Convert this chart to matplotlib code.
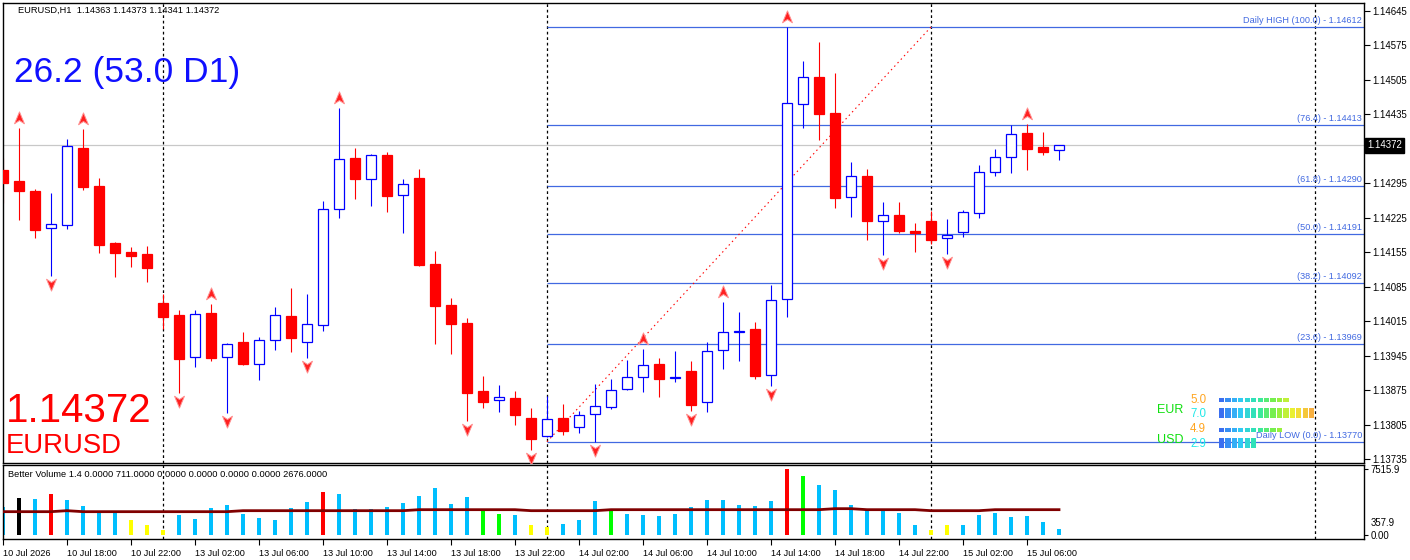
import matplotlib
matplotlib.use("Agg")
import matplotlib.pyplot as plt
import matplotlib.transforms as mtransforms
from matplotlib.path import Path
from matplotlib.patches import Rectangle
from matplotlib.colors import LinearSegmentedColormap

plt.rcParams["font.family"] = ["Liberation Sans", "DejaVu Sans"]

W, H, DPI = 1410, 560, 100

# EURUSD H1 bars, 10 Jul 14:00 .. 15 Jul 08:00
opens = [1.14322, 1.14299, 1.14279, 1.14204, 1.14210, 1.14366, 1.14289, 1.14174, 1.14155, 1.14151,
         1.14052, 1.14027, 1.13942, 1.14031, 1.13942, 1.13973, 1.13928, 1.13977, 1.14025, 1.13973,
         1.14007, 1.14243, 1.14346, 1.14303, 1.14352, 1.14271, 1.14306, 1.14131, 1.14048, 1.14011,
         1.13873, 1.13855, 1.13859, 1.13818, 1.13782, 1.13818, 1.13800, 1.13826, 1.13841, 1.13877,
         1.13901, 1.13928, 1.13899, 1.13914, 1.13851, 1.13956, 1.13992, 1.13999, 1.13906, 1.14060,
         1.14456, 1.14511, 1.14437, 1.14267, 1.14310, 1.14218, 1.14230, 1.14198, 1.14218, 1.14184,
         1.14196, 1.14234, 1.14318, 1.14348, 1.14397, 1.14368, 1.14363]
highs = [1.14346, 1.14407, 1.14283, 1.14275, 1.14385, 1.14405, 1.14306, 1.14176, 1.14165, 1.14167,
         1.14070, 1.14038, 1.14038, 1.14050, 1.13971, 1.13993, 1.13983, 1.14044, 1.14082, 1.14070,
         1.14259, 1.14448, 1.14366, 1.14354, 1.14358, 1.14303, 1.14324, 1.14157, 1.14062, 1.14021,
         1.13904, 1.13885, 1.13873, 1.13839, 1.13863, 1.13847, 1.13832, 1.13887, 1.13897, 1.13936,
         1.13958, 1.13940, 1.13954, 1.13934, 1.13973, 1.14054, 1.14033, 1.14013, 1.14088, 1.14612,
         1.14543, 1.14582, 1.14519, 1.14338, 1.14324, 1.14257, 1.14257, 1.14214, 1.14238, 1.14222,
         1.14240, 1.14332, 1.14364, 1.14413, 1.14415, 1.14399, 1.14373]
lows = [1.14255, 1.14220, 1.14184, 1.14107, 1.14202, 1.14281, 1.14153, 1.14105, 1.14125, 1.14094,
        1.13999, 1.13869, 1.13922, 1.13934, 1.13828, 1.13926, 1.13895, 1.13956, 1.13952, 1.13940,
        1.13995, 1.14224, 1.14263, 1.14249, 1.14236, 1.14194, 1.14127, 1.13969, 1.13948, 1.13812,
        1.13839, 1.13830, 1.13804, 1.13753, 1.13780, 1.13784, 1.13788, 1.13770, 1.13837, 1.13875,
        1.13871, 1.13861, 1.13891, 1.13832, 1.13830, 1.13918, 1.13934, 1.13897, 1.13883, 1.14023,
        1.14407, 1.14383, 1.14245, 1.14226, 1.14180, 1.14149, 1.14194, 1.14155, 1.14171, 1.14151,
        1.14186, 1.14224, 1.14310, 1.14316, 1.14322, 1.14352, 1.14341]
closes = [1.14295, 1.14279, 1.14200, 1.14212, 1.14370, 1.14287, 1.14170, 1.14153, 1.14147, 1.14123,
          1.14023, 1.13938, 1.14029, 1.13940, 1.13969, 1.13928, 1.13977, 1.14027, 1.13981, 1.14009,
          1.14243, 1.14344, 1.14303, 1.14352, 1.14269, 1.14293, 1.14129, 1.14046, 1.14009, 1.13869,
          1.13851, 1.13861, 1.13824, 1.13776, 1.13816, 1.13792, 1.13824, 1.13843, 1.13875, 1.13901,
          1.13926, 1.13897, 1.13901, 1.13845, 1.13954, 1.13993, 1.13994, 1.13904, 1.14058, 1.14458,
          1.14511, 1.14435, 1.14265, 1.14310, 1.14218, 1.14230, 1.14198, 1.14194, 1.14180, 1.14190,
          1.14236, 1.14318, 1.14348, 1.14395, 1.14364, 1.14358, 1.14372]

volumes = [3190, 4220, 4100, 4710, 3990, 3310, 2590, 2590, 1710, 1140,
           600, 2280, 1820, 3080, 3450, 2430, 1940, 1710, 3080, 3760,
           4900, 4670, 2960, 2960, 3190, 3650, 4450, 5360, 3530, 4330,
           2740, 2390, 2280, 1140, 910, 1250, 1710, 3880, 2960, 2390,
           2280, 2170, 2390, 3190, 3990, 3990, 3420, 3310, 3880, 7516,
           6730, 5700, 5130, 3420, 2850, 2850, 2510, 1140, 600, 1140,
           1140, 2280, 2510, 2050, 2170, 1480, 711]
vol_kind = list("ckcrccccyy" "yccccccccc" "rccccccccc" "ggcyycccgc"
                "cccccccccr" "gcccccccyy" "c" "cccccc")
vol_avg = [2676] * 4 + [2790] + [2676] * 10 + [2790] * 11 + [2905] * 7 + [2790] * 5 \
    + [2905] * 14 + [3020] * 2 + [2905] * 4 + [2790] * 4 + [2905] * 5

time_labels = ["10 Jul 2026", "10 Jul 18:00", "10 Jul 22:00", "13 Jul 02:00", "13 Jul 06:00",
               "13 Jul 10:00", "13 Jul 14:00", "13 Jul 18:00", "13 Jul 22:00", "14 Jul 02:00",
               "14 Jul 06:00", "14 Jul 10:00", "14 Jul 14:00", "14 Jul 18:00", "14 Jul 22:00",
               "15 Jul 02:00", "15 Jul 06:00"]

fib_levels = [1.14612, 1.14413, 1.14290, 1.14191, 1.14092, 1.13969, 1.13770]
fib_names = ["Daily HIGH (100.0)", "(76.4)", "(61.8)", "(50.0)", "(38.2)", "(23.6)", "Daily LOW (0.0)"]

up_arrows = [1, 5, 13, 21, 40, 45, 49, 64]
down_arrows = [3, 11, 14, 19, 29, 33, 37, 43, 48, 55, 59]
day_starts = [10, 34, 58, 82]

strength_names = ["EUR", "USD"]
strength_base = [5.0, 4.9]
strength_quote = [7.0, 2.9]

last_price = 1.14372
vol_colors = {"c": "#00BFFF", "k": "#000000", "r": "#FF0000", "y": "#FFFF00", "g": "#00FF00"}


def fx(x):
    return x / W


def fy(y):
    return 1 - y / H


fig = plt.figure(figsize=(W / DPI, H / DPI), dpi=DPI)
fig.patch.set_facecolor("white")

ax = fig.add_axes([fx(2.5), fy(462.5), (1364 - 2.5) / W, (462.5 - 2.5) / H])
axv = fig.add_axes([fx(2.5), fy(539.3), (1364 - 2.5) / W, (539.3 - 464.5) / H])

xmin, xmax = (2.5 - 3) / 16, (1364 - 3) / 16
for a in (ax, axv):
    a.set_xlim(xmin, xmax)
    for s in a.spines.values():
        s.set_linewidth(1.0)
        s.set_color("black")
    for d in day_starts:
        a.axvline(d, color="black", lw=0.9, ls=(0, (2.2, 2.2)), zorder=1)

ax.set_ylim(1.137279, 1.146617)

# current price line
ax.axhline(last_price, color="#C8C8C8", lw=0.9, zorder=1)

# fibonacci levels of the daily range
for lvl, name in zip(fib_levels, fib_names):
    ax.hlines(lvl, day_starts[1], xmax, color="#4169E1", lw=0.9, zorder=1.5)
    ax.annotate(f"{name} - {lvl:.5f}", xy=(xmax, lvl), xytext=(-1.5, 1.5),
                textcoords="offset points", ha="right", va="bottom",
                fontsize=6.6, color="#4169E1", zorder=6)

# diagonal from the daily low to the daily high
ax.plot([day_starts[1], day_starts[2]], [fib_levels[-1], fib_levels[0]],
        color="red", lw=0.8, ls=(0, (1.3, 3)), zorder=2)

# candles
for i, (o, h, l, c) in enumerate(zip(opens, highs, lows, closes)):
    bull = c >= o
    col = "#0000FF" if bull else "#FF0000"
    ax.vlines(i, l, h, color=col, lw=0.8, zorder=2)
    ax.add_patch(Rectangle((i - 0.33, min(o, c)), 0.66, max(abs(c - o), 0.000012),
                           facecolor="white" if bull else col, edgecolor=col,
                           lw=0.9, zorder=3))

# fractal arrows
up_path = Path([(0, 1), (0.75, -0.8), (0, -0.3), (-0.75, -0.8), (0, 1)],
               [Path.MOVETO, Path.LINETO, Path.LINETO, Path.LINETO, Path.CLOSEPOLY])
down_path = Path([(0, -1), (0.75, 0.8), (0, 0.3), (-0.75, 0.8), (0, -1)],
                 [Path.MOVETO, Path.LINETO, Path.LINETO, Path.LINETO, Path.CLOSEPOLY])
up_tr = mtransforms.offset_copy(ax.transData, fig=fig, x=0, y=7.0, units="points")
dn_tr = mtransforms.offset_copy(ax.transData, fig=fig, x=0, y=-5.8, units="points")
ax.plot(up_arrows, [highs[i] for i in up_arrows], ls="none", marker=up_path, ms=9.5,
        mfc="#FF2020", mec="#FF9090", mew=0.7, transform=up_tr, zorder=5)
ax.plot(down_arrows, [lows[i] for i in down_arrows], ls="none", marker=down_path, ms=9.5,
        mfc="#FF2020", mec="#FF9090", mew=0.7, transform=dn_tr, zorder=5)

# price scale; the label under the current price box is hidden by it
ticks = [1.13735 + 0.0007 * k for k in range(14)]
ax.yaxis.tick_right()
ax.set_yticks(ticks)
ax.set_yticklabels(["" if abs(t - last_price) < 0.0002 else f"{t:.5f}" for t in ticks])
ax.tick_params(axis="y", direction="out", length=4, width=0.8, labelsize=6.9, pad=2)
ax.set_xticks([])

# volume panel
idx = list(range(len(volumes)))
axv.bar(idx, volumes, width=0.19, color=[vol_colors[k] for k in vol_kind], zorder=2)
axv.plot(idx, vol_avg, color="#800000", lw=2.0, zorder=3)
axv.set_ylim(-493, 8086)
axv.yaxis.tick_right()
axv.set_yticks([7515.9, 0])
axv.set_yticklabels(["7515.9", "0.00"])
axv.tick_params(axis="y", direction="out", length=3, width=0.8, labelsize=6.9, pad=2)
axv.set_xticks(list(range(0, len(volumes), 4)))
axv.set_xticklabels(time_labels, ha="left")
axv.tick_params(axis="x", direction="out", length=4, width=0.8, labelsize=6.6, pad=3)
fig.text(fx(1371), fy(523), "357.9", fontsize=6.9, va="center", ha="left")

fig.text(fx(8), fy(474.5), "Better Volume 1.4 0.0000 711.0000 0.0000 0.0000 0.0000 0.0000 2676.0000",
         fontsize=6.7, va="center", ha="left")

# header and big overlay labels
fig.text(fx(18), fy(10.5), "EURUSD,H1  1.14363 1.14373 1.14341 1.14372",
         fontsize=6.7, va="center", ha="left")
fig.text(fx(14), fy(82), "26.2 (53.0 D1)", fontsize=25.5, color="#1010FF",
         va="baseline", ha="left")
fig.text(fx(6), fy(421.5), f"{last_price:.5f}", fontsize=29, color="#FF0000",
         va="baseline", ha="left")
fig.text(fx(6), fy(453.3), "EURUSD", fontsize=19.8, color="#FF0000",
         va="baseline", ha="left")

# price label box on the axis
fig.text(fx(1367), fy(145.3), f"{last_price:.5f}", fontsize=6.9, color="white",
         va="center", ha="left",
         bbox=dict(facecolor="black", edgecolor="black", boxstyle="square,pad=0.25"))

# currency strength meter
cmap = LinearSegmentedColormap.from_list(
    "strength", ["#3A6FF0", "#30C8F8", "#30E8A8", "#80F040", "#F0F030", "#F8B040"])
row_y = [(398.3, 4.0, 407.7, 10.0), (427.7, 4.0, 437.7, 10.6)]
for k, name in enumerate(strength_names):
    y_top, h_top, y_bot, h_bot = row_y[k]
    base_line = y_bot + 5.5
    fig.text(fx(1157), fy(base_line), name, fontsize=9, color="#10E010",
             va="baseline", ha="left")
    fig.text(fx(1190), fy(y_top + 4.5), f"{strength_base[k]:.1f}", fontsize=8.3,
             color="#FFA520", va="baseline", ha="left")
    fig.text(fx(1190), fy(y_bot + 9), f"{strength_quote[k]:.1f}", fontsize=8.3,
             color="#20E8E8", va="baseline", ha="left")
    for val, yy, hh in ((strength_base[k], y_top, h_top), (strength_quote[k], y_bot, h_bot)):
        n = int(val * 2) + 1
        for j in range(n):
            x0 = 1219 + j * 6.43
            fig.add_artist(Rectangle((fx(x0), fy(yy + hh)), 5.2 / W, hh / H,
                                     transform=fig.transFigure, facecolor=cmap(j / 14),
                                     edgecolor="none", zorder=4))

fig.savefig("out.png", dpi=DPI)
